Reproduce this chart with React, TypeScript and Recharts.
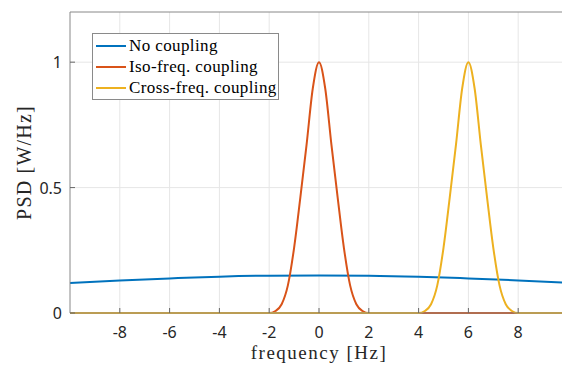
import { LineChart, Line, XAxis, YAxis, CartesianGrid, Legend, Label } from 'recharts';

const freqTicks = [-8, -6, -4, -2, 0, 2, 4, 6, 8];
const psdTicks = [0, 0.5, 1];

const noCouplingFreq = [-10, -8, -6, -4, -2, 0, 2, 4, 6, 8, 10];
const noCouplingPsd = [0.12, 0.13, 0.138, 0.145, 0.149, 0.15, 0.149, 0.145, 0.138, 0.13, 0.12];

const isoFreq = [-10, -2, -1.75, -1.5, -1.25, -1, -0.75, -0.5, -0.25, 0, 0.25, 0.5, 0.75, 1, 1.25, 1.5, 1.75, 2, 10];
const isoPsd = [0, 0, 0.008, 0.035, 0.11, 0.26, 0.46, 0.67, 0.895, 1, 0.895, 0.67, 0.46, 0.26, 0.11, 0.035, 0.008, 0, 0];

const crossFreq = [-10, 4, 4.25, 4.5, 4.75, 5, 5.25, 5.5, 5.75, 6, 6.25, 6.5, 6.75, 7, 7.25, 7.5, 7.75, 8, 10];
const crossPsd = [0, 0, 0.008, 0.035, 0.11, 0.26, 0.46, 0.67, 0.895, 1, 0.895, 0.67, 0.46, 0.26, 0.11, 0.035, 0.008, 0, 0];

const series = [
  { name: 'No coupling', color: '#0072BD', data: noCouplingFreq.map((f, i) => ({ f, p: noCouplingPsd[i] })) },
  { name: 'Iso-freq. coupling', color: '#D95319', data: isoFreq.map((f, i) => ({ f, p: isoPsd[i] })) },
  { name: 'Cross-freq. coupling', color: '#EDB120', data: crossFreq.map((f, i) => ({ f, p: crossPsd[i] })) },
];

const tickFont = { fontFamily: 'Noto Sans', fontSize: 16, fill: '#262626' };
const serif = 'Liberation Serif';

function BottomTick({ x, y, payload }: any) {
  return (
    <g>
      <line x1={x} y1={y} x2={x} y2={y - 5} stroke="#666" />
      <text x={x} y={y + 25} textAnchor="middle" {...tickFont}>{payload.value}</text>
    </g>
  );
}

function TopTick({ x, y }: any) {
  return <line x1={x} y1={y} x2={x} y2={y + 5} stroke="#666" />;
}

function LeftTick({ x, y, payload }: any) {
  return (
    <g>
      <line x1={x} y1={y} x2={x + 5} y2={y} stroke="#666" />
      <text x={x - 8} y={y + 6} textAnchor="end" {...tickFont}>{payload.value}</text>
    </g>
  );
}

function LegendBox() {
  return (
    <div style={{ border: '1px solid #8a8a8a', background: '#fff', width: 185, padding: '1px 0' }}>
      {series.map((s) => (
        <div key={s.name} style={{ display: 'flex', alignItems: 'center', height: 21 }}>
          <div style={{ width: 30, height: 2, background: s.color, marginLeft: 3, marginRight: 3 }} />
          <span style={{ fontFamily: serif, fontSize: 17, letterSpacing: 0.4, color: '#000', whiteSpace: 'nowrap' }}>{s.name}</span>
        </div>
      ))}
    </div>
  );
}

export default function App() {
  return (
    <div style={{ position: 'absolute', left: 0, top: 0, width: 562, height: 365, overflow: 'hidden', background: '#fff' }}>
      <LineChart width={580} height={365} margin={{ top: 0, right: 12, bottom: 0, left: 0 }}>
        <CartesianGrid stroke="#e6e6e6" horizontalValues={psdTicks} verticalValues={freqTicks} />
        <XAxis
          xAxisId={0}
          dataKey="f"
          type="number"
          domain={[-10, 10]}
          ticks={freqTicks}
          height={52}
          tickSize={0}
          tickMargin={0}
          tick={<BottomTick />}
          axisLine={{ stroke: '#888' }}
        >
          <Label
            content={({ viewBox }: any) => (
              <text x={viewBox.x + viewBox.width / 2} y={viewBox.y + 46} textAnchor="middle" fontFamily={serif} fontSize={19} letterSpacing={1.5} fill="#262626">
                frequency [Hz]
              </text>
            )}
          />
        </XAxis>
        <XAxis
          xAxisId="top"
          orientation="top"
          type="number"
          domain={[-10, 10]}
          ticks={freqTicks}
          height={12}
          tickSize={0}
          tickMargin={0}
          tick={<TopTick />}
          axisLine={{ stroke: '#888' }}
        />
        <YAxis
          type="number"
          domain={[0, 1.2]}
          ticks={psdTicks}
          width={70}
          tickSize={0}
          tickMargin={0}
          tick={<LeftTick />}
          axisLine={{ stroke: '#888' }}
        >
          <Label
            content={({ viewBox }: any) => (
              <text
                x={24}
                y={viewBox.y + viewBox.height / 2}
                textAnchor="middle"
                dominantBaseline="central"
                transform={`rotate(-90, 24, ${viewBox.y + viewBox.height / 2})`}
                fontFamily={serif}
                fontSize={20}
                letterSpacing={1.2}
                fill="#262626"
              >
                PSD [W/Hz]
              </text>
            )}
          />
        </YAxis>
        {series.map((s) => (
          <Line
            key={s.name}
            data={s.data}
            dataKey="p"
            name={s.name}
            type="monotone"
            stroke={s.color}
            strokeWidth={2}
            dot={false}
            isAnimationActive={false}
          />
        ))}
        <Legend
          content={<LegendBox />}
          layout="vertical"
          align="center"
          verticalAlign="middle"
          wrapperStyle={{ position: 'absolute', left: 92, top: 33, width: 'auto' }}
        />
      </LineChart>
    </div>
  );
}
